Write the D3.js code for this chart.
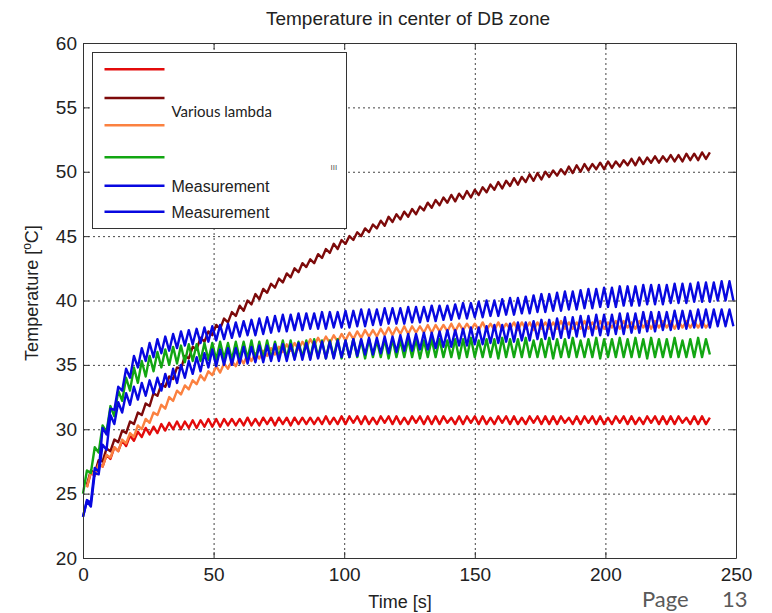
<!DOCTYPE html>
<html>
<head>
<meta charset="utf-8">
<script src="https://cdn.jsdelivr.net/npm/d3@7/dist/d3.min.js"></script>
<style>
  body { margin: 0; background: #fff; }
  svg text { font-family: "Liberation Sans", Arial, sans-serif; fill: #222; }
</style>
</head>
<body>
<svg id="chart" width="772" height="613"></svg>
<script>
// sampling step of every curve, seconds
var step = 1.5;
var xTicks = [0, 50, 100, 150, 200, 250];
var yTicks = [20, 25, 30, 35, 40, 45, 50, 55, 60];

// simulations start at t = 1.5 s
var simRed = [
  25.5, 26.6, 26.4, 27.3, 27.1, 28.0, 27.7, 28.6, 28.3, 29.1, 28.7, 29.5, 29.1, 29.8, 29.4, 30.1, 29.6, 30.2, 29.7, 30.4,
  29.9, 30.5, 30.0, 30.6, 30.0, 30.6, 30.1, 30.7, 30.1, 30.7, 30.2, 30.8, 30.2, 30.8, 30.2, 30.8, 30.3, 30.8, 30.3, 30.8,
  30.3, 30.9, 30.3, 30.8, 30.3, 30.9, 30.4, 30.9, 30.3, 30.9, 30.4, 30.9, 30.3, 30.9, 30.4, 30.9, 30.4, 30.9, 30.4, 30.9,
  30.4, 31.0, 30.4, 30.9, 30.4, 31.0, 30.4, 31.0, 30.5, 31.0, 30.4, 31.0, 30.4, 30.9, 30.4, 31.0, 30.5, 31.0, 30.4, 31.0,
  30.4, 30.9, 30.4, 31.0, 30.5, 31.0, 30.4, 31.0, 30.4, 31.0, 30.4, 31.0, 30.5, 30.9, 30.4, 31.0, 30.4, 31.0, 30.5, 31.0,
  30.4, 31.0, 30.4, 30.9, 30.4, 31.0, 30.5, 31.0, 30.4, 31.0, 30.4, 30.9, 30.4, 31.0, 30.5, 31.0, 30.4, 31.0, 30.4, 31.0,
  30.4, 31.0, 30.5, 30.9, 30.4, 31.0, 30.4, 31.0, 30.5, 31.0, 30.4, 31.0, 30.4, 30.9, 30.4, 31.0, 30.5, 31.0, 30.4, 31.0,
  30.4, 30.9, 30.4, 31.0, 30.5, 31.0, 30.4, 31.0, 30.4, 31.0, 30.4, 31.0, 30.5, 30.9, 30.4, 31.0, 30.4, 31.0, 30.4, 30.9
];
var simDarkRed = [
  25.7, 26.8, 26.6, 27.6, 27.5, 28.5, 28.3, 29.2, 29.0, 29.9, 29.7, 30.6, 30.4, 31.3, 31.1, 32.0, 31.8, 32.8, 32.6, 33.5,
  33.3, 34.1, 33.9, 34.8, 34.7, 35.7, 35.5, 36.4, 36.2, 37.1, 36.8, 37.6, 37.3, 38.1, 37.8, 38.6, 38.3, 39.1, 38.8, 39.6,
  39.2, 40.0, 39.7, 40.5, 40.1, 40.9, 40.6, 41.3, 41.0, 41.7, 41.4, 42.1, 41.8, 42.5, 42.2, 42.9, 42.6, 43.2, 42.9, 43.6,
  43.3, 44.0, 43.7, 44.4, 44.0, 44.7, 44.4, 45.0, 44.7, 45.3, 45.0, 45.6, 45.3, 45.9, 45.6, 46.2, 45.8, 46.5, 46.1, 46.7,
  46.3, 46.9, 46.5, 47.1, 46.7, 47.3, 47.0, 47.6, 47.2, 47.8, 47.4, 48.0, 47.6, 48.2, 47.7, 48.3, 47.9, 48.5, 48.0, 48.6,
  48.2, 48.8, 48.4, 49.0, 48.6, 49.2, 48.7, 49.3, 48.9, 49.5, 49.0, 49.6, 49.2, 49.8, 49.3, 49.9, 49.4, 50.0, 49.6, 50.1,
  49.7, 50.2, 49.8, 50.4, 49.9, 50.5, 50.0, 50.6, 50.1, 50.6, 50.2, 50.7, 50.2, 50.8, 50.3, 50.8, 50.4, 50.9, 50.5, 51.0,
  50.5, 51.1, 50.6, 51.1, 50.7, 51.2, 50.7, 51.2, 50.8, 51.3, 50.8, 51.3, 50.8, 51.4, 50.9, 51.4, 50.9, 51.5, 51.0, 51.5
];
var simOrange = [
  25.5, 26.7, 26.4, 27.3, 27.1, 28.0, 27.8, 28.6, 28.3, 29.2, 28.9, 29.7, 29.4, 30.3, 30.0, 30.8, 30.5, 31.3, 31.1, 31.9,
  31.6, 32.5, 32.2, 33.0, 32.7, 33.4, 33.1, 33.8, 33.5, 34.2, 33.8, 34.5, 34.2, 34.9, 34.4, 35.1, 34.7, 35.3, 34.9, 35.6,
  35.1, 35.8, 35.3, 35.9, 35.5, 36.1, 35.7, 36.3, 35.8, 36.4, 36.0, 36.6, 36.1, 36.7, 36.2, 36.8, 36.3, 37.0, 36.5, 37.1,
  36.6, 37.2, 36.7, 37.3, 36.8, 37.4, 36.9, 37.5, 37.0, 37.6, 37.1, 37.7, 37.2, 37.7, 37.2, 37.8, 37.3, 37.9, 37.3, 37.9,
  37.4, 38.0, 37.4, 38.0, 37.5, 38.0, 37.5, 38.1, 37.5, 38.1, 37.6, 38.1, 37.6, 38.2, 37.6, 38.2, 37.7, 38.2, 37.7, 38.2,
  37.7, 38.3, 37.7, 38.2, 37.7, 38.3, 37.7, 38.2, 37.8, 38.3, 37.7, 38.3, 37.8, 38.3, 37.7, 38.3, 37.8, 38.3, 37.8, 38.3,
  37.8, 38.4, 37.8, 38.3, 37.8, 38.3, 37.8, 38.4, 37.8, 38.3, 37.8, 38.4, 37.8, 38.3, 37.9, 38.4, 37.8, 38.4, 37.9, 38.3,
  37.8, 38.4, 37.9, 38.4, 37.8, 38.4, 37.9, 38.4, 37.9, 38.4, 37.8, 38.4, 37.9, 38.4, 37.9, 38.4, 37.9, 38.4, 37.9, 38.3
];
// green and measurements start at t = 0
var simGreen = [
  25.0, 26.8, 26.6, 28.6, 28.2, 30.3, 29.8, 31.8, 31.0, 33.0, 32.2, 34.0, 33.0, 34.8, 33.6, 35.3, 34.1, 35.7, 34.5, 36.0,
  34.8, 36.2, 35.0, 36.4, 35.1, 36.5, 35.2, 36.6, 35.3, 36.6, 35.3, 36.7, 35.4, 36.7,
  35.4, 36.8, 35.5, 36.7, 35.4, 36.8, 35.5, 36.8, 35.5, 36.9, 35.4, 36.8, 35.5, 36.9, 35.5, 36.8, 35.6, 36.9, 35.5, 36.9,
  35.5, 36.8, 35.6, 36.9, 35.5, 37.0, 35.6, 36.9, 35.5, 36.9, 35.6, 37.0, 35.5, 36.9, 35.6, 37.0, 35.6, 36.9, 35.5, 37.0,
  35.6, 36.9, 35.6, 37.0, 35.5, 37.0, 35.6, 36.9, 35.6, 37.0, 35.6, 37.0, 35.5, 36.9, 35.6, 37.0, 35.6, 37.0, 35.6, 36.9,
  35.6, 37.0, 35.5, 37.0, 35.6, 37.1, 35.6, 36.9, 35.6, 37.0, 35.6, 37.0, 35.5, 37.1, 35.6, 37.0, 35.6, 37.0, 35.6, 37.1,
  35.6, 36.9, 35.6, 37.0, 35.6, 37.1, 35.5, 37.0, 35.6, 37.0, 35.6, 37.1, 35.6, 36.9, 35.6, 37.0, 35.6, 37.1, 35.5, 37.0,
  35.6, 37.0, 35.6, 37.1, 35.6, 37.0, 35.6, 37.1, 35.6, 37.0, 35.5, 37.1, 35.6, 37.0, 35.6, 37.0, 35.6, 37.1, 35.6, 36.9,
  35.6, 37.0, 35.6, 37.1, 35.6, 37.0, 35.8
];
var measUpper = [
  23.2, 24.5, 24.3, 27.0, 26.7, 30.1, 29.6, 31.6, 31.5, 33.3, 33.0, 34.7, 34.0, 35.7, 34.8, 36.3, 35.3, 36.7, 35.6, 37.0,
  35.9, 37.2, 36.1, 37.4, 36.3, 37.6, 36.5, 37.7, 36.6, 37.8, 36.7, 37.9, 36.8, 38.0, 36.9, 38.1, 37.0, 38.2, 37.1, 38.3,
  37.2, 38.4, 37.3, 38.5, 37.3, 38.6, 37.4, 38.7, 37.5, 38.8, 37.6, 38.9, 37.6, 38.9, 37.7, 39.0, 37.7, 39.0, 37.8, 39.0,
  37.8, 39.1, 37.8, 39.1, 37.9, 39.1, 37.9, 39.2, 37.9, 39.2, 38.0, 39.3, 38.0, 39.3, 38.1, 39.3, 38.1, 39.4, 38.2, 39.4,
  38.2, 39.4, 38.2, 39.5, 38.3, 39.5, 38.3, 39.5, 38.4, 39.6, 38.4, 39.6, 38.5, 39.6, 38.5, 39.7, 38.6, 39.8, 38.6, 39.8,
  38.7, 39.9, 38.7, 40.0, 38.8, 40.0, 38.8, 40.1, 38.9, 40.2, 38.9, 40.2, 39.0, 40.3, 39.0, 40.4, 39.1, 40.5, 39.1, 40.5,
  39.2, 40.6, 39.2, 40.7, 39.3, 40.7, 39.3, 40.8, 39.4, 40.9, 39.4, 40.9, 39.5, 41.0, 39.5, 41.0, 39.5, 41.1, 39.6, 41.1,
  39.6, 41.1, 39.6, 41.2, 39.7, 41.2, 39.7, 41.2, 39.7, 41.2, 39.8, 41.3, 39.8, 41.3, 39.8, 41.3, 39.9, 41.4, 39.9, 41.4,
  39.9, 41.4, 40.0, 41.5, 40.0, 41.5, 40.0
];
var measLower = [
  23.2, 24.4, 24.0, 26.6, 26.5, 28.8, 28.4, 31.1, 30.4, 32.1, 31.3, 32.8, 31.9, 33.3, 32.3, 33.6, 32.6, 33.8, 32.8, 34.0,
  33.0, 34.3, 33.3, 34.7, 33.6, 35.0, 34.0, 35.3, 34.3, 35.6, 34.5, 35.9, 34.8, 36.2, 34.9, 36.2, 35.0, 36.3, 35.0, 36.3,
  35.1, 36.4, 35.1, 36.4, 35.2, 36.5, 35.2, 36.5, 35.3, 36.6, 35.3, 36.6, 35.3, 36.6, 35.4, 36.7, 35.4, 36.7, 35.4, 36.8,
  35.5, 36.8, 35.5, 36.8, 35.5, 36.9, 35.6, 36.9, 35.6, 37.0, 35.7, 37.0, 35.8, 37.1, 35.8, 37.1, 35.9, 37.2, 35.9, 37.2,
  36.0, 37.3, 36.1, 37.4, 36.1, 37.4, 36.2, 37.5, 36.2, 37.5, 36.3, 37.6, 36.4, 37.7, 36.4, 37.7, 36.5, 37.8, 36.5, 37.9,
  36.6, 37.9, 36.6, 38.0, 36.7, 38.1, 36.7, 38.1, 36.8, 38.2, 36.8, 38.3, 36.9, 38.3, 36.9, 38.4, 37.0, 38.5, 37.0, 38.5,
  37.0, 38.6, 37.1, 38.7, 37.1, 38.7, 37.2, 38.8, 37.2, 38.8, 37.3, 38.9, 37.3, 38.9, 37.3, 38.9, 37.4, 39.0, 37.4, 39.0,
  37.5, 39.0, 37.5, 39.1, 37.6, 39.1, 37.6, 39.1, 37.7, 39.1, 37.7, 39.2, 37.8, 39.2, 37.8, 39.2, 37.9, 39.3, 37.9, 39.3,
  37.9, 39.3, 38.0, 39.3, 38.0, 39.3, 38.0
];

var legendLabels = ['', '', 'Various lambda', '', 'Measurement', 'Measurement'];
var legendColors = ['#e30b0b', '#7d0a0a', '#fb8140', '#12a612', '#0808e0', '#0808e0'];

// curves in drawing order, start time + colour for each
var curves = [
  { values: simRed,     t0: 1.5, color: legendColors[0] },
  { values: simDarkRed, t0: 1.5, color: legendColors[1] },
  { values: simOrange,  t0: 1.5, color: legendColors[2] },
  { values: simGreen,   t0: 0,   color: legendColors[3] },
  { values: measLower,  t0: 0,   color: legendColors[5] },
  { values: measUpper,  t0: 0,   color: legendColors[4] }
];

// plot box (window.top is reserved, so own names)
var plotLeft = 83, plotRight = 736, plotTop = 43, plotBottom = 558;

var svg = d3.select('#chart');

var xScale = d3.scaleLinear().domain([0, 250]).range([plotLeft, plotRight]);
var yScale = d3.scaleLinear().domain([20, 60]).range([plotBottom, plotTop]);

// dotted grid
svg.append('g').selectAll('line.vgrid')
  .data(xTicks.slice(1, -1)).enter().append('line')
  .attr('class', 'vgrid')
  .attr('x1', function(d) { return xScale(d) + 0.5; })
  .attr('x2', function(d) { return xScale(d) + 0.5; })
  .attr('y1', plotTop).attr('y2', plotBottom)
  .attr('stroke', '#444').attr('stroke-width', 1).attr('stroke-dasharray', '2,3');

svg.append('g').selectAll('line.hgrid')
  .data(yTicks.slice(1, -1)).enter().append('line')
  .attr('class', 'hgrid')
  .attr('x1', plotLeft).attr('x2', plotRight)
  .attr('y1', function(d) { return yScale(d) + 0.5; })
  .attr('y2', function(d) { return yScale(d) + 0.5; })
  .attr('stroke', '#444').attr('stroke-width', 1).attr('stroke-dasharray', '2,3');

// the curves
curves.forEach(function(c) {
  var ln = d3.line()
    .x(function(d, i) { return xScale(c.t0 + i * step); })
    .y(function(d) { return yScale(d); });
  svg.append('path')
    .datum(c.values)
    .attr('d', ln)
    .attr('fill', 'none')
    .attr('stroke', c.color)
    .attr('stroke-width', 2.4)
    .attr('stroke-linejoin', 'round');
});

// axes, matlab style inward ticks on all four sides
svg.append('g')
  .attr('transform', 'translate(0,' + plotBottom + ')')
  .call(d3.axisBottom(xScale).tickValues(xTicks).tickSizeInner(-6).tickSizeOuter(0).tickPadding(10));
svg.append('g')
  .attr('transform', 'translate(0,' + plotTop + ')')
  .call(d3.axisTop(xScale).tickValues(xTicks).tickSizeInner(-6).tickSizeOuter(0).tickFormat(''));
svg.append('g')
  .attr('transform', 'translate(' + plotLeft + ',0)')
  .call(d3.axisLeft(yScale).tickValues(yTicks).tickSizeInner(-6).tickSizeOuter(0).tickPadding(6));
svg.append('g')
  .attr('transform', 'translate(' + plotRight + ',0)')
  .call(d3.axisRight(yScale).tickValues(yTicks).tickSizeInner(-6).tickSizeOuter(0).tickFormat(''));

svg.selectAll('.domain, .tick line').attr('stroke', '#333');
svg.selectAll('.tick text')
  .style('font-size', '19px')
  .style('font-family', '"Liberation Sans", Arial, sans-serif')
  .style('fill', '#222');

// legend
var legend = svg.append('g').attr('transform', 'translate(92.5,52.5)');
legend.append('rect')
  .attr('width', 254).attr('height', 176)
  .attr('fill', '#fff').attr('stroke', '#333').attr('stroke-width', 1);

var legendY = [16.8, 45.5, 72.8, 104.8, 133.2, 159.2];
legend.selectAll('line.leg')
  .data(legendColors).enter().append('line')
  .attr('class', 'leg')
  .attr('x1', 12).attr('x2', 72)
  .attr('y1', function(d, i) { return legendY[i]; })
  .attr('y2', function(d, i) { return legendY[i]; })
  .attr('stroke', function(d) { return d; })
  .attr('stroke-width', 2.4);

legend.append('text')
  .attr('x', 79).attr('y', 64.8)
  .style('font-family', 'Lato, "Noto Sans", sans-serif')
  .style('font-size', '15px')
  .text(legendLabels[2]);

legend.selectAll('text.meas')
  .data([4, 5]).enter().append('text')
  .attr('class', 'meas')
  .attr('x', 79)
  .attr('y', function(d) { return legendY[d] + 6; })
  .style('font-size', '16px')
  .text(function(d) { return legendLabels[d]; });

legend.append('text')
  .attr('x', 238).attr('y', 117)
  .style('font-size', '8px')
  .style('fill', '#555')
  .text('III');

// title and axis labels
svg.append('text')
  .attr('x', 408).attr('y', 25)
  .attr('text-anchor', 'middle')
  .style('font-size', '19px')
  .text('Temperature in center of DB zone');

svg.append('text')
  .attr('x', 400).attr('y', 608)
  .attr('text-anchor', 'middle')
  .style('font-size', '18px')
  .text('Time [s]');

var yLabel = svg.append('text')
  .attr('transform', 'translate(38,293) rotate(-90)')
  .attr('text-anchor', 'middle')
  .style('font-size', '18px');
yLabel.append('tspan').text('Temperature [');
yLabel.append('tspan').attr('baseline-shift', 'super').style('font-size', '12px').text('o');
yLabel.append('tspan').text('C]');

// slide footer in the bottom right corner
svg.append('text')
  .attr('x', 642).attr('y', 607)
  .style('font-family', 'Lato, "Noto Sans", sans-serif')
  .style('font-size', '22px')
  .style('fill', '#595959')
  .text('Page');
svg.append('text')
  .attr('x', 722).attr('y', 607)
  .style('font-family', 'Lato, "Noto Sans", sans-serif')
  .style('font-size', '22px')
  .style('fill', '#595959')
  .text('13');
</script>
</body>
</html>
